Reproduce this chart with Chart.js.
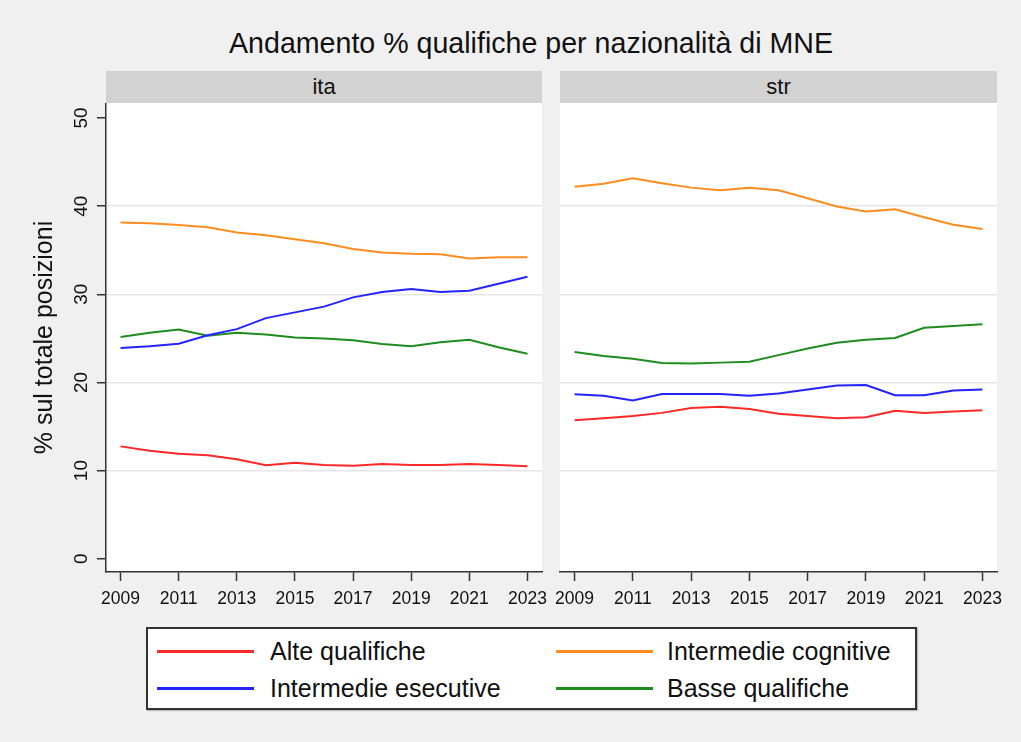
<!DOCTYPE html>
<html>
<head>
<meta charset="utf-8">
<script src="https://cdn.jsdelivr.net/npm/chart.js@4.4.1/dist/chart.umd.min.js"></script>
<style>
  body { margin: 0; background: #f0f0f0; font-family: 'Liberation Sans', Arial, sans-serif; }
  #page { position: relative; width: 1021px; height: 742px; background: #f0f0f0; overflow: hidden; }
  .title { position: absolute; left: 31px; width: 1000px; top: 29px; font-size: 28.6px; line-height: 28px; text-align: center; color: #111; }
  .strip { position: absolute; top: 71px; height: 32px; line-height: 32px; background: #d2d2d2; text-align: center; font-size: 22px; color: #111; }
  canvas { position: absolute; }
  #legend { position: absolute; left: 146px; top: 627px; width: 771px; height: 83px; box-sizing: border-box; background: #fff; border: 2px solid #333; box-shadow: 1px 1px 1px #bbb; }
  #legend .sample { position: absolute; width: 97px; height: 3px; }
  #legend .label { position: absolute; font-size: 25px; line-height: 25px; color: #111; white-space: nowrap; }
</style>
</head>
<body>
<div id="page">
  <div class="title">Andamento % qualifiche per nazionalità di MNE</div>
  <div class="strip" style="left:106px;width:436px;">ita</div>
  <div class="strip" style="left:560px;width:437px;">str</div>
  <canvas id="chartIta" width="580" height="517" style="left:0px;top:103px;"></canvas>
  <canvas id="chartStr" width="470" height="517" style="left:544px;top:103px;"></canvas>
  <div id="legend"></div>
</div>
<script>
const years = ["2009", "2010", "2011", "2012", "2013", "2014", "2015", "2016", "2017", "2018", "2019", "2020", "2021", "2022", "2023"];
const yTicks = [0, 10, 20, 30, 40, 50];

const seriesNames = ["Alte qualifiche", "Intermedie cognitive", "Intermedie esecutive", "Basse qualifiche"];
const seriesColors = ["rgb(255,40,40)", "rgb(255,140,30)", "rgb(35,35,255)", "rgb(30,140,30)"];

// ita
const itaAlte = [12.75, 12.25, 11.9, 11.75, 11.3, 10.6, 10.9, 10.65, 10.55, 10.75, 10.65, 10.65, 10.75, 10.65, 10.5];
const itaCognitive = [38.15, 38.05, 37.85, 37.6, 37.0, 36.7, 36.25, 35.8, 35.15, 34.75, 34.6, 34.55, 34.05, 34.2, 34.2];
const itaEsecutive = [23.9, 24.1, 24.4, 25.35, 26.05, 27.3, 27.95, 28.6, 29.65, 30.25, 30.6, 30.25, 30.4, 31.2, 32.0];
const itaBasse = [25.15, 25.65, 26.0, 25.3, 25.65, 25.45, 25.1, 25.0, 24.8, 24.35, 24.1, 24.55, 24.85, 24.0, 23.25];

// str
const strAlte = [15.7, 15.95, 16.2, 16.55, 17.1, 17.25, 17.0, 16.45, 16.2, 15.95, 16.05, 16.8, 16.55, 16.7, 16.85];
const strCognitive = [42.2, 42.55, 43.15, 42.6, 42.1, 41.8, 42.1, 41.8, 40.9, 39.95, 39.4, 39.65, 38.75, 37.9, 37.4];
const strEsecutive = [18.65, 18.5, 17.95, 18.7, 18.7, 18.7, 18.5, 18.75, 19.2, 19.65, 19.7, 18.55, 18.55, 19.1, 19.2];
const strBasse = [23.45, 23.0, 22.7, 22.2, 22.15, 22.25, 22.35, 23.1, 23.85, 24.5, 24.85, 25.05, 26.2, 26.4, 26.6];

const fontFamily = "'Liberation Sans', Arial, sans-serif";
Chart.defaults.font.family = fontFamily;

// white plot region behind the lines
const panelBg = {
    id: "panelBg",
    beforeDraw(chart) {
        const a = chart.chartArea;
        const ctx = chart.ctx;
        ctx.save();
        ctx.fillStyle = "#fff";
        ctx.fillRect(a.left, a.top, a.right - a.left, a.bottom - a.top);
        ctx.restore();
    }
};

// rotated y tick labels, stata style
const yLabels = {
    id: "yLabels",
    afterDraw(chart, args, opts) {
        if (!opts.show) return;
        const s = chart.scales.y;
        const ctx = chart.ctx;
        ctx.save();
        ctx.font = "19px " + fontFamily;
        ctx.fillStyle = "#111";
        ctx.textAlign = "center";
        ctx.textBaseline = "alphabetic";
        yTicks.forEach(function (v) {
            ctx.save();
            ctx.translate(s.right - 19, s.getPixelForValue(v));
            ctx.rotate(-Math.PI / 2);
            ctx.fillText(String(v), 0, 0);
            ctx.restore();
        });
        ctx.restore();
    }
};

function makeChart(canvasId, data, showY, padRight) {
    const datasets = data.map(function (values, i) {
        return {
            label: seriesNames[i],
            data: values,
            borderColor: seriesColors[i],
            backgroundColor: seriesColors[i],
            borderWidth: 2,
            pointRadius: 0,
            tension: 0,
            fill: false
        };
    });
    return new Chart(document.getElementById(canvasId), {
        type: "line",
        data: { labels: years, datasets: datasets },
        plugins: [panelBg, yLabels],
        options: {
            responsive: false,
            animation: false,
            layout: { padding: { left: 0, right: padRight, top: 0, bottom: 0 } },
            plugins: {
                legend: { display: false },
                tooltip: { enabled: false },
                yLabels: { show: showY }
            },
            scales: {
                x: {
                    type: "category",
                    offset: true,
                    grid: {
                        drawOnChartArea: false,
                        drawTicks: true,
                        offset: false,
                        tickLength: 9,
                        tickWidth: 1.5,
                        tickColor: function (c) { return c.index % 2 === 0 ? "#333" : "rgba(0,0,0,0)"; }
                    },
                    border: { display: true, color: "#333", width: 1.5 },
                    ticks: {
                        autoSkip: false,
                        maxRotation: 0,
                        minRotation: 0,
                        padding: 8,
                        color: "#111",
                        font: { size: 17.5 },
                        callback: function (v, i) { return i % 2 === 0 ? this.getLabelForValue(v) : ""; }
                    },
                    afterFit: function (s) { s.height = 48; }
                },
                y: {
                    min: -1.5,
                    max: 51.7,
                    afterBuildTicks: function (s) { s.ticks = yTicks.map(function (v) { return { value: v }; }); },
                    grid: {
                        color: function (c) {
                            if (c.tick && (c.tick.value === 0 || c.tick.value === 50)) return "rgba(0,0,0,0)";
                            return "#e6e6e6";
                        },
                        lineWidth: 1.5,
                        drawTicks: showY,
                        tickLength: 9,
                        tickWidth: 1.5,
                        tickColor: "#333"
                    },
                    border: { display: showY, color: "#333", width: 1.5 },
                    ticks: { display: false },
                    title: {
                        display: showY,
                        text: "% sul totale posizioni",
                        color: "#111",
                        font: { size: 25 },
                        padding: { top: 30, bottom: 0 }
                    },
                    afterFit: function (s) { s.width = showY ? 106 : 16; }
                }
            }
        }
    });
}

makeChart("chartIta", [itaAlte, itaCognitive, itaEsecutive, itaBasse], true, 38);
makeChart("chartStr", [strAlte, strCognitive, strEsecutive, strBasse], false, 17);

// legend, two columns
const legend = document.getElementById("legend");
const colX = [[9, 122], [408, 519]];
const rowY = [22, 59];
seriesNames.forEach(function (name, i) {
    const col = i % 2;
    const row = Math.floor(i / 2);
    const sample = document.createElement("div");
    sample.className = "sample";
    sample.style.left = colX[col][0] + "px";
    sample.style.top = (rowY[row] - 1.5) + "px";
    sample.style.background = seriesColors[i];
    legend.appendChild(sample);
    const label = document.createElement("div");
    label.className = "label";
    label.style.left = colX[col][1] + "px";
    label.style.top = (rowY[row] - 12) + "px";
    label.textContent = name;
    legend.appendChild(label);
});
</script>
</body>
</html>
